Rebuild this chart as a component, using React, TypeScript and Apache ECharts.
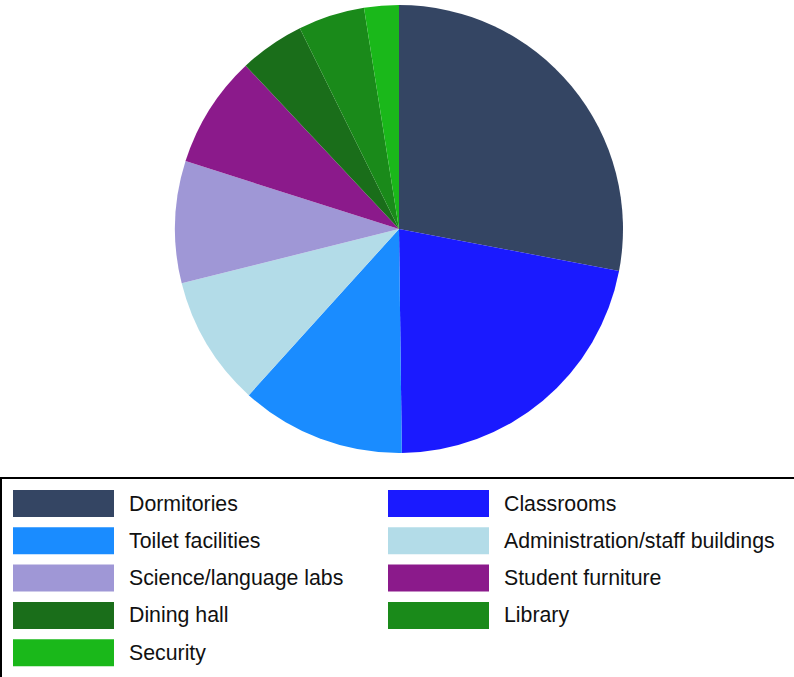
import React, { useEffect, useRef } from "react";
import * as echarts from "echarts";

const categories = [
  "Dormitories",
  "Classrooms",
  "Toilet facilities",
  "Administration/staff buildings",
  "Science/language labs",
  "Student furniture",
  "Dining hall",
  "Library",
  "Security",
];
const values = [28.0, 21.8, 11.9, 9.4, 8.8, 8.1, 4.7, 4.8, 2.5];
const colors = [
  "#344563",
  "#1a1aff",
  "#1a8cff",
  "#b3dce8",
  "#9f97d6",
  "#8b1a8b",
  "#1a6e1a",
  "#1a8a1a",
  "#1ab81a",
];
const leftLegend = [categories[0], categories[2], categories[4], categories[6], categories[8]];
const rightLegend = [categories[1], categories[3], categories[5], categories[7]];

export default function App() {
  const ref = useRef<HTMLDivElement>(null);
  useEffect(() => {
    if (!ref.current) return;
    const chart = echarts.init(ref.current, null, { renderer: "svg" });
    const legendCommon = {
      orient: "vertical" as const,
      itemWidth: 101,
      itemHeight: 27,
      itemGap: 10.3,
      icon: "rect",
      selectedMode: false,
      padding: 0,
      textStyle: {
        fontFamily: "Liberation Sans, Arial, sans-serif",
        fontSize: 21.3,
        color: "#111",
        padding: [0, 0, 0, 10],
      },
    };
    chart.setOption({
      animation: false,
      color: colors,
      legend: [
        { ...legendCommon, left: 13, top: 490, data: leftLegend },
        { ...legendCommon, left: 388, top: 490, data: rightLegend },
      ],
      graphic: [
        {
          type: "rect",
          shape: { x: 1, y: 478, width: 820, height: 260 },
          style: { fill: "none", stroke: "#000", lineWidth: 2 },
          silent: true,
        },
      ],
      series: [
        {
          type: "pie",
          center: [399, 229],
          radius: 224,
          startAngle: 90,
          clockwise: true,
          label: { show: false },
          labelLine: { show: false },
          itemStyle: { borderWidth: 0 },
          emphasis: { disabled: true },
          data: categories.map((name, i) => ({ name, value: values[i] })),
        },
      ],
    });
    return () => chart.dispose();
  }, []);
  return (
    <div
      ref={ref}
      style={{ position: "fixed", left: 0, top: 0, width: 794, height: 677, background: "#fff" }}
    />
  );
}
